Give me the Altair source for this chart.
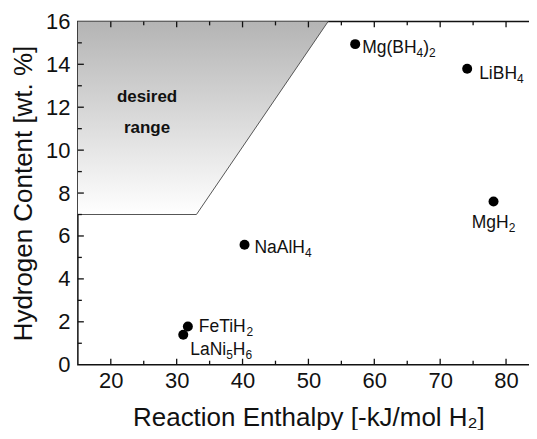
import altair as alt
import pandas as pd

# ---------------- data ----------------
names = ["Mg(BH4)2", "LiBH4", "MgH2", "NaAlH4", "FeTiH2", "LaNi5H6"]
# label pieces: (text, is_subscript)
name_parts = [
    [("Mg(BH", 0), ("4", 1), (")", 0), ("2", 1)],
    [("LiBH", 0), ("4", 1)],
    [("MgH", 0), ("2", 1)],
    [("NaAlH", 0), ("4", 1)],
    [("FeTiH", 0), ("2", 1)],
    [("LaNi", 0), ("5", 1), ("H", 0), ("6", 1)],
]
enthalpy = [57.1, 74.1, 78.1, 40.3, 31.7, 31.0]
content = [14.94, 13.79, 7.61, 5.59, 1.78, 1.40]
label_dx = [7, 12, 0, 10, 11, 7]          # start offset (px) of label from point
label_dy = [3, 4, 20, 2, -1, 14]          # vertical offset of label centre
label_center = [False, False, True, False, False, False]

region_x = [15, 33, 53]
region_lo = [7, 7, 16]
region_hi = [16, 16, 16]

x_major = [20, 30, 40, 50, 60, 70, 80]
x_minor = [25, 35, 45, 55, 65, 75]
y_major = [2, 4, 6, 8, 10, 12, 14]
y_minor = [1, 3, 5, 7, 9, 11, 13, 15]

XD = [15, 85]
YD = [0, 16]
W, H = 462, 344

FONT = "Liberation Sans"
FS, FSS = 17.5, 12

# Arial / Liberation Sans advance widths (em)
AW = {"M": .833, "g": .556, "(": .333, ")": .333, "B": .667, "H": .722, "L": .556,
      "i": .222, "N": .722, "a": .556, "l": .222, "A": .667, "F": .611, "e": .556,
      "T": .611}
def tw(s, size):
    return sum(AW.get(c, .556) for c in s) * size

xs = alt.Scale(domain=XD, nice=False, zero=False)
ys = alt.Scale(domain=YD, nice=False, zero=False)

xax = alt.Axis(values=[20, 30, 40, 50, 60, 70, 80], ticks=False, domain=False, grid=False,
               labelFontSize=22, labelPadding=6, labelFont=FONT, labelColor="#111",
               title="Reaction Enthalpy [-kJ/mol H₂]", titleFontSize=26, titleFont=FONT,
               titleFontWeight="normal", titlePadding=13, titleColor="#111")
yax = alt.Axis(values=[0, 2, 4, 6, 8, 10, 12, 14, 16], ticks=False, domain=False, grid=False,
               labelFontSize=22, labelPadding=8, labelFont=FONT, labelColor="#111",
               title="Hydrogen Content [wt. %]", titleFontSize=26, titleFont=FONT,
               titleFontWeight="normal", titlePadding=9, titleColor="#111")

reg = pd.DataFrame({"x": region_x, "lo": region_lo, "hi": region_hi})
df = pd.DataFrame({"x": enthalpy, "y": content})

area = alt.Chart(reg).mark_area(
    color=alt.Gradient(gradient="linear",
                       stops=[alt.GradientStop(color="#b4b4b4", offset=0),
                              alt.GradientStop(color="#ffffff", offset=1)],
                       x1=0, x2=0, y1=0, y2=1)
).encode(x=alt.X("x:Q", scale=xs, axis=xax), y=alt.Y("lo:Q", scale=ys, axis=yax), y2="hi:Q")

edge = alt.Chart(reg).mark_line(color="#555", strokeWidth=1).encode(
    x=alt.X("x:Q", scale=xs), y=alt.Y("lo:Q", scale=ys))

pts = alt.Chart(df).mark_circle(size=100, color="#000", opacity=1).encode(
    x=alt.X("x:Q", scale=xs), y=alt.Y("y:Q", scale=ys))

labels = []
for i, parts in enumerate(name_parts):
    total = sum(tw(t, FSS if s else FS) for t, s in parts)
    start = label_dx[i] - (total / 2 if label_center[i] else 0)
    base = label_dy[i] + 0.716 * FS / 2
    one = pd.DataFrame({"x": [enthalpy[i]], "y": [content[i]]})
    cur = start
    for t, s in parts:
        size = FSS if s else FS
        labels.append(alt.Chart(one).mark_text(
            text=t, align="left", baseline="alphabetic", dx=cur, dy=base + (4 if s else 0),
            fontSize=size, font=FONT, color="#111").encode(
            x=alt.X("x:Q", scale=xs), y=alt.Y("y:Q", scale=ys)))
        cur += tw(t, size)

ann = pd.DataFrame({"x": [25.5, 25.5], "y": [12.48, 11.04], "t": ["desired", "range"]})
anntext = alt.Chart(ann).mark_text(fontSize=17, fontWeight="bold", font=FONT, color="#111").encode(
    x=alt.X("x:Q", scale=xs), y=alt.Y("y:Q", scale=ys), text="t:N")

def xt(vals, length, top):
    d = pd.DataFrame({"v": vals})
    if top:
        return alt.Chart(d).mark_rule(color="#111", strokeWidth=1.3).encode(
            x=alt.X("v:Q", scale=xs), y=alt.value(0), y2=alt.value(length))
    return alt.Chart(d).mark_rule(color="#111", strokeWidth=1.3).encode(
        x=alt.X("v:Q", scale=xs), y=alt.value(H), y2=alt.value(H - length))

def yt(vals, length, right):
    d = pd.DataFrame({"v": vals})
    if right:
        return alt.Chart(d).mark_rule(color="#111", strokeWidth=1.3).encode(
            y=alt.Y("v:Q", scale=ys), x=alt.value(W), x2=alt.value(W - length))
    return alt.Chart(d).mark_rule(color="#111", strokeWidth=1.3).encode(
        y=alt.Y("v:Q", scale=ys), x=alt.value(0), x2=alt.value(length))

ticks = [xt(x_major, 6, False), xt(x_minor, 4, False), xt(x_major, 6, True), xt(x_minor, 4, True),
         yt(y_major, 6, False), yt(y_minor, 4, False), yt(y_major, 6, True), yt(y_minor, 4, True)]

chart = alt.layer(area, edge, *ticks, pts, *labels, anntext).properties(
    width=W, height=H,
    padding={"left": 2, "top": 2, "right": -11, "bottom": -1},
).configure_view(stroke="#111", strokeWidth=1.5)

chart.save("out.html", embed_options={"renderer": "svg", "actions": False})
